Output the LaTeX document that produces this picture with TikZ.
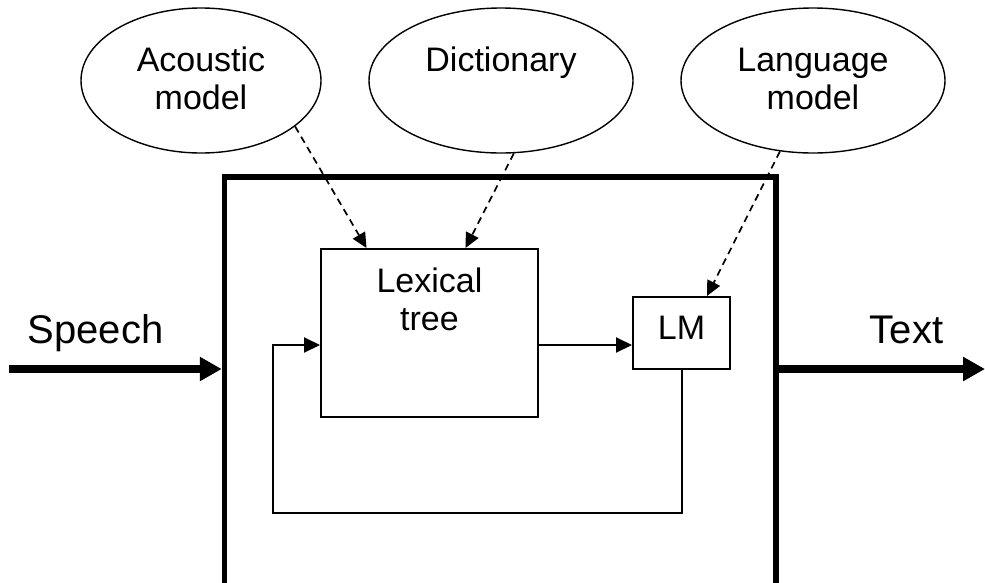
\documentclass[tikz,border=0pt]{standalone}
\usepackage{fontspec}
\setmainfont{Liberation Sans}
\usetikzlibrary{arrows.meta,shapes.geometric,calc}
\begin{document}
\begin{tikzpicture}[x=1pt,y=-1pt,
  model/.style={ellipse, draw, line width=1.4pt, inner sep=0pt},
  blk/.style={rectangle, draw, line width=2pt, inner sep=0pt},
  sysbox/.style={rectangle, draw, line width=5.5pt, inner sep=0pt},
  lbl/.style={font=\fontsize{34}{38}\selectfont, align=center, anchor=base},
  io/.style={font=\fontsize{40}{46}\selectfont, anchor=base},
  flow/.style={line width=2pt, -{Triangle[length=16pt,width=15pt]}},
  feed/.style={line width=1.7pt, dash pattern=on 7pt off 5pt,
               -{Triangle[length=15pt,width=14pt]}},
  bigarrow/.style={line width=7.5pt, -{Triangle[length=22pt,width=23pt]}}]
\useasboundingbox (0,0) rectangle (985,582);

% knowledge sources (multi-line labels are placed by their last baseline)
\node[model, minimum width=240, minimum height=145] (ac) at (201,80.5) {};
\node[model, minimum width=264, minimum height=145] (dc) at (501,80.5) {};
\node[model, minimum width=264, minimum height=145] (lg) at (813,80.5) {};
\node[lbl] (actxt) at (201,109.5) {Acoustic\\model};
\node[lbl] (dctxt) at (501,71.5) {Dictionary};
\node[lbl] (lgtxt) at (813,109.5) {Language\\model};

% decoder
\node[sysbox, minimum width=551.5, minimum height=413] (sys) at (500.25,383.5) {};
\node[blk, minimum width=217, minimum height=168] (lex) at (429.5,333) {};
\node[lbl] (lextxt) at (429.5,330) {Lexical\\tree};
\node[blk, minimum width=97, minimum height=72,
      font=\fontsize{34}{38}\selectfont, text depth=10pt] (lm) at (681.5,333) {LM};

% reference points for the connectors
\coordinate (fb) at (0,345);
\coordinate (loop) at (273,513);
\coordinate (speechin) at (9,369);
\coordinate (textout) at (985,369);
\coordinate (acin) at ($(lex.north)+(-63,0)$);
\coordinate (dcin) at ($(lex.north)+(36,0)$);
\coordinate (lgin) at ($(lm.north)+(25.5,0)$);

% input and output
\draw[bigarrow] (speechin) -- (speechin -| sys.west);
\draw[bigarrow] (textout -| sys.east) -- (textout);
\node[io] (speech) at (95.5,343) {Speech};
\node[io] (text) at (906.5,343) {Text};

% search loop
\draw[flow] (lex.east |- fb) -- (lm.west |- fb);
\draw[flow] (lm.south) |- (loop) |- (lex.west |- fb);

% knowledge used by the search
\draw[feed] (ac.-26.6) -- (acin);
\draw[feed] (dc.-80.6) -- (dcin);
\draw[feed] (lg.-115.7) -- (lgin);
\end{tikzpicture}
\end{document}
